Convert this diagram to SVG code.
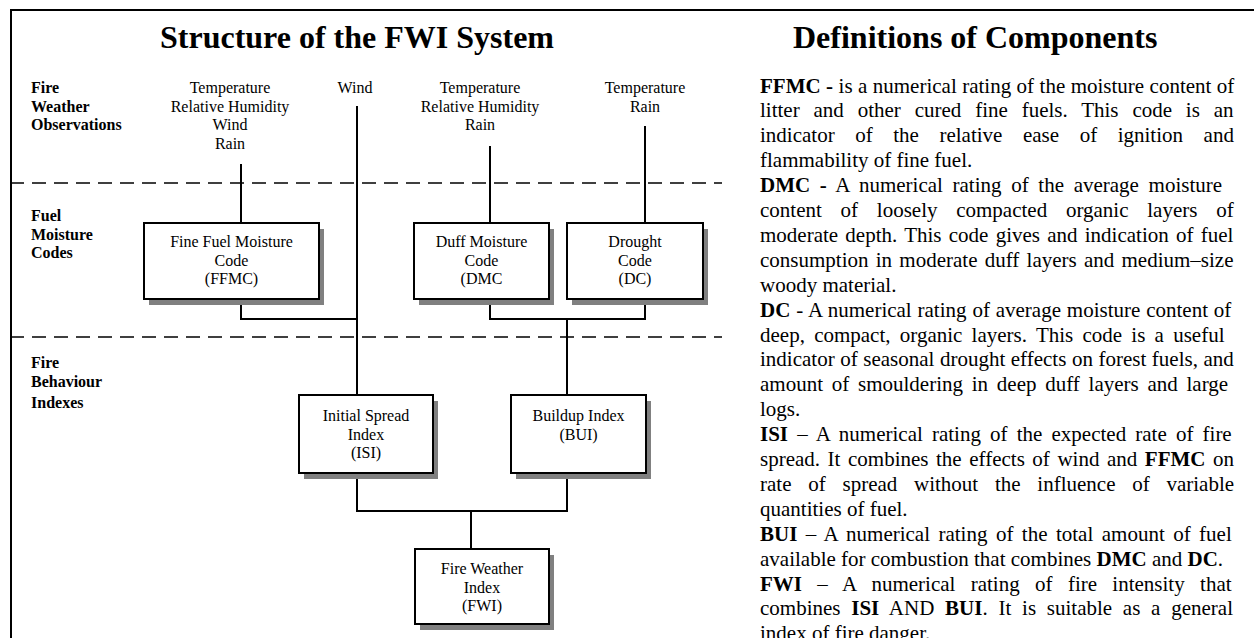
<svg xmlns="http://www.w3.org/2000/svg" width="1254" height="638" viewBox="0 0 1254 638">
<style>
text{font-family:"Liberation Serif","Times New Roman",serif;font-size:16px;fill:#000}
.c{text-anchor:middle}
.b{font-weight:bold}
.h{font-size:32px;font-weight:bold}
.d{font-size:21px}
.box{fill:#fff;stroke:#000;stroke-width:2}
.sh{fill:#808080}
.ln{fill:none;stroke:#000;stroke-width:2}
.dash{fill:none;stroke:#000;stroke-width:1.6;stroke-dasharray:14 8}
.frame{fill:none;stroke:#000;stroke-width:2}
</style>
<rect width="1254" height="638" fill="#fff"/>
<g id="frame">
<path class="frame" d="M11,638 V10 H1254"/>
<line class="dash" x1="10" y1="183" x2="722" y2="183"/>
<line class="dash" x1="10" y1="337" x2="722" y2="337"/>
</g>
<g id="titles">
<text class="h" x="160" y="48">Structure of the FWI System</text>
<text class="h" x="793" y="48">Definitions of Components</text>
</g>
<g id="row-labels">
<text class="b" x="31"><tspan x="31" y="93">Fire</tspan><tspan x="31" y="111.5">Weather</tspan><tspan x="31" y="130">Observations</tspan></text>
<text class="b" x="31"><tspan x="31" y="221">Fuel</tspan><tspan x="31" y="239.5">Moisture</tspan><tspan x="31" y="258">Codes</tspan></text>
<text class="b" x="31"><tspan x="31" y="368">Fire</tspan><tspan x="31" y="387">Behaviour</tspan><tspan x="31" y="408">Indexes</tspan></text>
</g>
<g id="inputs">
<text class="c"><tspan x="230" y="93">Temperature</tspan><tspan x="230" y="111.5">Relative Humidity</tspan><tspan x="230" y="130">Wind</tspan><tspan x="230" y="148.5">Rain</tspan></text>
<text class="c" x="355" y="93">Wind</text>
<text class="c"><tspan x="480" y="93">Temperature</tspan><tspan x="480" y="111.5">Relative Humidity</tspan><tspan x="480" y="130">Rain</tspan></text>
<text class="c"><tspan x="645" y="93">Temperature</tspan><tspan x="645" y="111.5">Rain</tspan></text>
</g>
<g id="connectors">
<path class="ln" d="M241,164 V223"/>
<path class="ln" d="M357,106 V395"/>
<path class="ln" d="M490,146 V223"/>
<path class="ln" d="M645,126 V223"/>
<path class="ln" d="M241,299 V319 H357"/>
<path class="ln" d="M490,299 V319 H645 V299"/>
<path class="ln" d="M567,319 V395"/>
<path class="ln" d="M357,473 V511 H567 V473"/>
<path class="ln" d="M471,511 V549"/>
</g>
<g id="ffmc">
<rect class="sh" x="149" y="229" width="175" height="76"/>
<rect class="box" x="144" y="223" width="175" height="76"/>
<text class="c"><tspan x="231.5" y="247">Fine Fuel Moisture</tspan><tspan x="231.5" y="265.5">Code</tspan><tspan x="231.5" y="284">(FFMC)</tspan></text>
</g>
<g id="dmc">
<rect class="sh" x="419" y="229" width="135" height="76"/>
<rect class="box" x="414" y="223" width="135" height="76"/>
<text class="c"><tspan x="481.5" y="247">Duff Moisture</tspan><tspan x="481.5" y="265.5">Code</tspan><tspan x="481.5" y="284">(DMC</tspan></text>
</g>
<g id="dc">
<rect class="sh" x="572" y="229" width="136" height="76"/>
<rect class="box" x="567" y="223" width="136" height="76"/>
<text class="c"><tspan x="635" y="247">Drought</tspan><tspan x="635" y="265.5">Code</tspan><tspan x="635" y="284">(DC)</tspan></text>
</g>
<g id="isi">
<rect class="sh" x="304" y="401" width="134" height="78"/>
<rect class="box" x="299" y="395" width="134" height="78"/>
<text class="c"><tspan x="366" y="421">Initial Spread</tspan><tspan x="366" y="439.5">Index</tspan><tspan x="366" y="458">(ISI)</tspan></text>
</g>
<g id="bui">
<rect class="sh" x="516" y="401" width="135" height="78"/>
<rect class="box" x="511" y="395" width="135" height="78"/>
<text class="c"><tspan x="578.5" y="421">Buildup Index</tspan><tspan x="578.5" y="439.5">(BUI)</tspan></text>
</g>
<g id="fwi">
<rect class="sh" x="420" y="555" width="134" height="75"/>
<rect class="box" x="415" y="549" width="134" height="75"/>
<text class="c"><tspan x="482" y="574">Fire Weather</tspan><tspan x="482" y="592.5">Index</tspan><tspan x="482" y="611">(FWI)</tspan></text>
</g>
<g id="definitions">
<text class="d" x="760" y="92.5" style="word-spacing:0.2px"><tspan class="b">FFMC -</tspan> is a numerical rating of the moisture content of</text>
<text class="d" x="760" y="117.4" style="word-spacing:8.6px">litter and other cured fine fuels. This code is an</text>
<text class="d" x="760" y="142.3" style="word-spacing:15.3px">indicator of the relative ease of ignition and</text>
<text class="d" x="760" y="167.2">flammability of fine fuel.</text>
<text class="d" x="760" y="192.1" style="word-spacing:4.4px"><tspan class="b">DMC -</tspan> A numerical rating of the average moisture</text>
<text class="d" x="760" y="217" style="word-spacing:13.5px">content of loosely compacted organic layers of</text>
<text class="d" x="760" y="241.9" style="word-spacing:2px">moderate depth. This code gives and indication of fuel</text>
<text class="d" x="760" y="266.8" style="word-spacing:2px">consumption in moderate duff layers and medium–size</text>
<text class="d" x="760" y="291.7">woody material.</text>
<text class="d" x="760" y="316.6" style="word-spacing:0.6px"><tspan class="b">DC</tspan> - A numerical rating of average moisture content of</text>
<text class="d" x="760" y="341.5" style="word-spacing:4px">deep, compact, organic layers. This code is a useful</text>
<text class="d" x="760" y="366.4" style="word-spacing:0.3px">indicator of seasonal drought effects on forest fuels, and</text>
<text class="d" x="760" y="391.3" style="word-spacing:3.5px">amount of smouldering in deep duff layers and large</text>
<text class="d" x="760" y="416.2">logs.</text>
<text class="d" x="760" y="441.1" style="word-spacing:3.9px"><tspan class="b">ISI</tspan> – A numerical rating of the expected rate of fire</text>
<text class="d" x="760" y="466" style="word-spacing:2.3px">spread. It combines the effects of wind and <tspan class="b">FFMC</tspan> on</text>
<text class="d" x="760" y="490.9" style="word-spacing:11.5px">rate of spread without the influence of variable</text>
<text class="d" x="760" y="515.8">quantities of fuel.</text>
<text class="d" x="760" y="540.7" style="word-spacing:3.2px"><tspan class="b">BUI</tspan> – A numerical rating of the total amount of fuel</text>
<text class="d" x="760" y="565.6">available for combustion that combines <tspan class="b">DMC</tspan> and <tspan class="b">DC</tspan>.</text>
<text class="d" x="760" y="590.5" style="word-spacing:10.1px"><tspan class="b">FWI</tspan> – A numerical rating of fire intensity that</text>
<text class="d" x="760" y="615.4" style="word-spacing:5.5px">combines <tspan class="b">ISI</tspan> AND <tspan class="b">BUI</tspan>. It is suitable as a general</text>
<text class="d" x="760" y="640.3">index of fire danger.</text>
</g>
</svg>
